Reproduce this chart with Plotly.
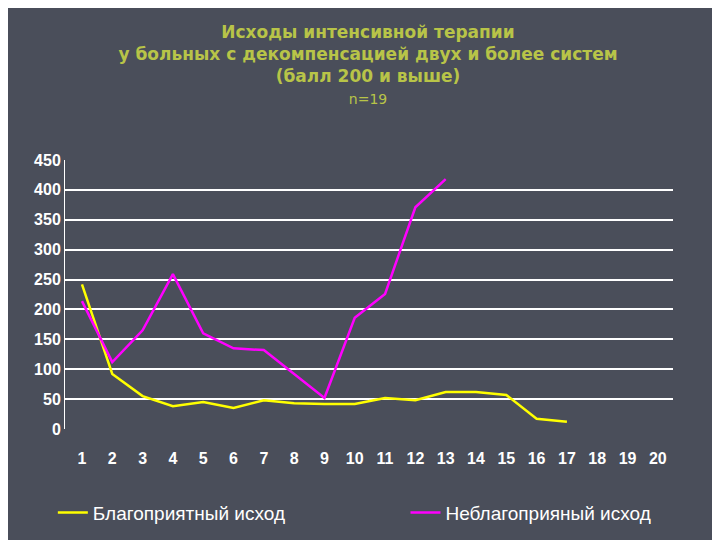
import plotly.graph_objects as go

x = list(range(1, 21))
good_x = list(range(1, 18))
good = [242, 92, 55, 38, 45, 35, 48, 43, 42, 42, 52, 48, 62, 62, 57, 17, 12]
bad_x = list(range(1, 14))
bad = [214, 112, 165, 259, 160, 135, 132, 92, 52, 186, 226, 371, 418]
yticks = [0, 50, 100, 150, 200, 250, 300, 350, 400, 450]

fig = go.Figure()
fig.add_trace(go.Scatter(x=good_x, y=good, mode="lines", name="Благоприятный исход",
                         line=dict(color="#ffff00", width=2.5), legend="legend", showlegend=True))
fig.add_trace(go.Scatter(x=bad_x, y=bad, mode="lines", name="Неблагоприяный исход",
                         line=dict(color="#ff00ff", width=2.5), legend="legend2", showlegend=True))
leg = dict(orientation="h", y=-0.24, yanchor="top",
           font=dict(size=19, color="white"), bgcolor="rgba(0,0,0,0)")
fig.update_layout(
    width=720, height=540, paper_bgcolor="#4a4e5a", plot_bgcolor="#4a4e5a",
    showlegend=True,
    margin=dict(l=57, r=55, t=152, b=119, autoexpand=False),
    font=dict(family="Liberation Sans, Arial", color="white", size=16),
    title=dict(text="<b>Исходы интенсивной терапии<br>у больных с декомпенсацией двух и более систем<br>(балл 200 и выше)</b><br><span style='font-size:14px'>n=19</span>",
               x=0.5, y=0.945, yanchor="top",
               font=dict(family="DejaVu Sans, sans-serif", color="#b8c448", size=17)),
    xaxis=dict(range=[0.44, 20.5], tickvals=x, ticktext=[f"<b>{v}</b>" for v in x],
               showgrid=False, zeroline=False, ticklabelstandoff=18, tickangle=0,
               showline=False, ticks="", tickfont=dict(size=16, color="white")),
    yaxis=dict(range=[0, 450], tickvals=yticks, ticktext=[f"<b>{v}</b>" for v in yticks],
               gridcolor="white", gridwidth=1.5,
               zeroline=False, showline=True, linecolor="white", ticks="",
               tickfont=dict(size=16, color="white")),
    legend=dict(x=-0.02, xanchor="left", **leg),
    legend2=dict(x=0.56, xanchor="left", **leg),
)
fig.write_html("out.html")
